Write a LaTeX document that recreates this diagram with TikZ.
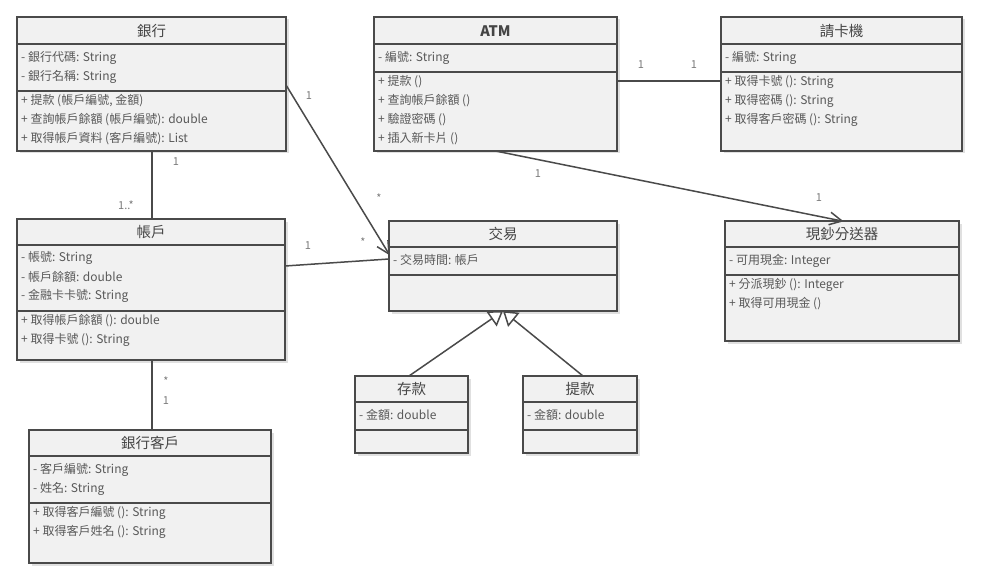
\documentclass[tikz,border=0pt]{standalone}
\usepackage{fontspec}
\setmainfont{Noto Sans CJK TC}
\usetikzlibrary{arrows.meta,shadows,calc}
\definecolor{boxfill}{HTML}{F1F1F1}
\definecolor{boxline}{HTML}{4A4A4A}
\definecolor{txt}{HTML}{595959}
\definecolor{ttl}{HTML}{454545}
\definecolor{mult}{HTML}{7A7A7A}
\tikzset{
  umlbox/.style={draw=boxline, line width=1.5pt, fill=boxfill, anchor=north west, inner sep=0pt, outer sep=0pt,
    drop shadow={shadow xshift=2.5pt, shadow yshift=-2.5pt, opacity=0.12, fill=black}},
  divline/.style={draw=boxline, line width=1.5pt},
  titletext/.style={text=ttl, font=\fontsize{14.5}{16}\selectfont, inner sep=0pt},
  attr/.style={text=txt, font=\fontsize{12}{13}\selectfont, anchor=west, inner sep=0pt, xshift=2pt},
  multlabel/.style={text=mult, font=\fontsize{11}{12}\selectfont, inner sep=0pt},
  assoc/.style={draw=boxline, line width=1.5pt},
  barb/.style={draw=boxline, line width=1.5pt, line join=miter},
  genarrow/.style={assoc, -{Triangle[open, length=14pt, width=18pt, line width=1.5pt, fill=white]}}
}
\begin{document}
\begin{tikzpicture}[x=1pt, y=-1pt]
\useasboundingbox (0,0) rectangle (983,583);

% ---------------- 銀行 ----------------
\node[umlbox, minimum width=269, minimum height=134] (bank) at (17,17) {};
\node[titletext] (bankT) at (151.5,31) {銀行};
\draw[divline] (bank.west |- 0,44) -- (bank.east |- 0,44);
\draw[divline] (bank.west |- 0,91) -- (bank.east |- 0,91);
\node[attr] (bankA1) at (19,58) {- 銀行代碼: String};
\node[attr] (bankA2) at (19,77) {- 銀行名稱: String};
\node[attr] (bankM1) at (19,101) {+ 提款 (帳戶編號, 金額)};
\node[attr] (bankM2) at (19,120) {+ 查詢帳戶餘額 (帳戶編號): double};
\node[attr] (bankM3) at (19,139) {+ 取得帳戶資料 (客戶編號): List};

% ---------------- ATM ----------------
\node[umlbox, minimum width=243, minimum height=134] (atm) at (374,17) {};
\node[titletext, font=\fontsize{14.5}{16}\selectfont\bfseries] (atmT) at (495.5,31) {ATM};
\draw[divline] (atm.west |- 0,44) -- (atm.east |- 0,44);
\draw[divline] (atm.west |- 0,72) -- (atm.east |- 0,72);
\node[attr] (atmA1) at (376,58) {- 編號: String};
\node[attr] (atmM1) at (376,82) {+ 提款 ()};
\node[attr] (atmM2) at (376,101) {+ 查詢帳戶餘額 ()};
\node[attr] (atmM3) at (376,120) {+ 驗證密碼 ()};
\node[attr] (atmM4) at (376,139) {+ 插入新卡片 ()};

% ---------------- 請卡機 ----------------
\node[umlbox, minimum width=241, minimum height=134] (reader) at (721,17) {};
\node[titletext] (readerT) at (841.5,31) {請卡機};
\draw[divline] (reader.west |- 0,44) -- (reader.east |- 0,44);
\draw[divline] (reader.west |- 0,72) -- (reader.east |- 0,72);
\node[attr] (readerA1) at (723,58) {- 編號: String};
\node[attr] (readerM1) at (723,82) {+ 取得卡號 (): String};
\node[attr] (readerM2) at (723,101) {+ 取得密碼 (): String};
\node[attr] (readerM3) at (723,120) {+ 取得客戶密碼 (): String};

% ---------------- 帳戶 ----------------
\node[umlbox, minimum width=268, minimum height=141] (acct) at (17,219) {};
\node[titletext] (acctT) at (151,232) {帳戶};
\draw[divline] (acct.west |- 0,245) -- (acct.east |- 0,245);
\draw[divline] (acct.west |- 0,311) -- (acct.east |- 0,311);
\node[attr] (acctA1) at (19,258) {- 帳號: String};
\node[attr] (acctA2) at (19,277) {- 帳戶餘額: double};
\node[attr] (acctA3) at (19,296) {- 金融卡卡號: String};
\node[attr] (acctM1) at (19,321) {+ 取得帳戶餘額 (): double};
\node[attr] (acctM2) at (19,340) {+ 取得卡號 (): String};

% ---------------- 交易 ----------------
\node[umlbox, minimum width=228, minimum height=90] (trans) at (389,221) {};
\node[titletext] (transT) at (503,234) {交易};
\draw[divline] (trans.west |- 0,247) -- (trans.east |- 0,247);
\draw[divline] (trans.west |- 0,275) -- (trans.east |- 0,275);
\node[attr] (transA1) at (391,260) {- 交易時間: 帳戶};

% ---------------- 現鈔分送器 ----------------
\node[umlbox, minimum width=234, minimum height=120] (cash) at (725,221) {};
\node[titletext] (cashT) at (842,234) {現鈔分送器};
\draw[divline] (cash.west |- 0,247) -- (cash.east |- 0,247);
\draw[divline] (cash.west |- 0,275) -- (cash.east |- 0,275);
\node[attr] (cashA1) at (727,261) {- 可用現金: Integer};
\node[attr] (cashM1) at (727,285) {+ 分派現鈔 (): Integer};
\node[attr] (cashM2) at (727,304) {+ 取得可用現金 ()};

% ---------------- 存款 ----------------
\node[umlbox, minimum width=113, minimum height=77] (dep) at (355,376) {};
\node[titletext] (depT) at (411.5,389) {存款};
\draw[divline] (dep.west |- 0,402) -- (dep.east |- 0,402);
\draw[divline] (dep.west |- 0,430) -- (dep.east |- 0,430);
\node[attr] (depA1) at (357,415) {- 金額: double};

% ---------------- 提款 ----------------
\node[umlbox, minimum width=114, minimum height=77] (wd) at (523,376) {};
\node[titletext] (wdT) at (580,389) {提款};
\draw[divline] (wd.west |- 0,402) -- (wd.east |- 0,402);
\draw[divline] (wd.west |- 0,430) -- (wd.east |- 0,430);
\node[attr] (wdA1) at (525,415) {- 金額: double};

% ---------------- 銀行客戶 ----------------
\node[umlbox, minimum width=242, minimum height=133] (cust) at (29,430) {};
\node[titletext] (custT) at (150,443) {銀行客戶};
\draw[divline] (cust.west |- 0,456) -- (cust.east |- 0,456);
\draw[divline] (cust.west |- 0,503) -- (cust.east |- 0,503);
\node[attr] (custA1) at (31,470) {- 客戶編號: String};
\node[attr] (custA2) at (31,489) {- 姓名: String};
\node[attr] (custM1) at (31,513) {+ 取得客戶編號 (): String};
\node[attr] (custM2) at (31,532) {+ 取得客戶姓名 (): String};

% ---------------- connectors ----------------
\draw[assoc] (bank.south -| 152,0) -- (acct.north -| 152,0);
\node[multlabel] (m1) at (176,162) {1};
\node[multlabel] (m2) at (126,205) {1..*};

\coordinate (s1) at (bank.east |- 0,85);
\coordinate (t1) at (trans.west |- 0,254);
\draw[assoc] (s1) -- (t1);
\draw[barb] ($(t1)!14pt!27:(s1)$) -- (t1) -- ($(t1)!14pt!-27:(s1)$);
\node[multlabel] (m3) at (309,96) {1};
\node[multlabel] (m4) at (379,198) {*};

\draw[assoc] (acct.east |- 0,266) -- (trans.west |- 0,259);
\node[multlabel] (m5) at (308,246) {1};
\node[multlabel] (m6) at (363,242) {*};

\draw[assoc] (atm.east |- 0,81) -- (reader.west |- 0,81);
\node[multlabel] (m7) at (641,65) {1};
\node[multlabel] (m8) at (694,65) {1};

\draw[assoc] (atm.south) -- (cash.north);
\draw[barb] ($(cash.north)!14pt!27:(atm.south)$) -- (cash.north) -- ($(cash.north)!14pt!-27:(atm.south)$);
\node[multlabel] (m9) at (538,174) {1};
\node[multlabel] (m10) at (819,198) {1};

\draw[assoc] (acct.south -| 152,0) -- (cust.north -| 152,0);
\node[multlabel] (m11) at (166,381) {*};
\node[multlabel] (m12) at (166,401) {1};

\draw[genarrow] (dep.north -| 409,0) -- (trans.south);
\draw[genarrow] (wd.north -| 583,0) -- (trans.south);
\end{tikzpicture}
\end{document}
